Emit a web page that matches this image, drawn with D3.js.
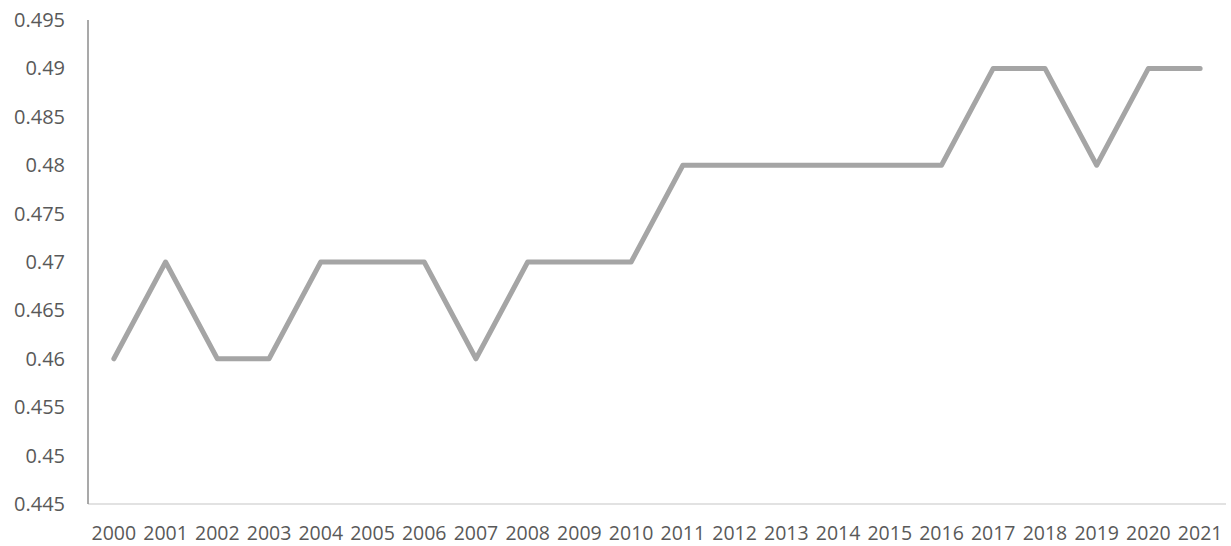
<!DOCTYPE html>
<html>
<head>
<meta charset="utf-8">
<script src="https://cdn.jsdelivr.net/npm/d3@7"></script>
<style>
  html, body { margin: 0; padding: 0; background: #fff; }
  svg { display: block; }
</style>
</head>
<body>
<svg id="chart" width="1231" height="546"></svg>
<script>
const years = ["2000","2001","2002","2003","2004","2005","2006","2007","2008","2009","2010",
               "2011","2012","2013","2014","2015","2016","2017","2018","2019","2020","2021"];
const values = [0.46,0.47,0.46,0.46,0.47,0.47,0.47,0.46,0.47,0.47,0.47,
                0.48,0.48,0.48,0.48,0.48,0.48,0.49,0.49,0.48,0.49,0.49];
const yTicks = [0.445,0.45,0.455,0.46,0.465,0.47,0.475,0.48,0.485,0.49,0.495];

const svg = d3.select("#chart");
const plotLeft = 88, plotRight = 1226, plotTop = 20, plotBottom = 504;

const x = d3.scaleBand().domain(years).range([plotLeft, plotRight]).padding(0);
const y = d3.scaleLinear().domain([0.445, 0.495]).range([plotBottom, plotTop]);

const font = "'Open Sans', sans-serif";
const textColor = "#595959";

// horizontal category axis
svg.append("line")
  .attr("x1", plotLeft).attr("x2", plotRight)
  .attr("y1", plotBottom).attr("y2", plotBottom)
  .attr("stroke", "#d9d9d9").attr("stroke-width", 1.5);

// vertical value axis
svg.append("line")
  .attr("x1", plotLeft).attr("x2", plotLeft)
  .attr("y1", plotTop).attr("y2", plotBottom)
  .attr("stroke", "#8c8c8c").attr("stroke-width", 1.5);

// value tick labels
svg.append("g").selectAll("text")
  .data(yTicks).join("text")
  .attr("x", 65)
  .attr("y", d => y(d))
  .attr("dy", "0.35em")
  .attr("text-anchor", "end")
  .attr("font-family", font)
  .attr("font-size", 20)
  .attr("fill", textColor)
  .text(d => String(+d.toFixed(3)));

// year labels
svg.append("g").selectAll("text")
  .data(years).join("text")
  .attr("x", d => x(d) + x.bandwidth() / 2)
  .attr("y", 540)
  .attr("text-anchor", "middle")
  .attr("font-family", font)
  .attr("font-size", 19.5)
  .attr("fill", textColor)
  .text(d => d);

// series line
const line = d3.line()
  .x((d, i) => x(years[i]) + x.bandwidth() / 2)
  .y(d => y(d));

svg.append("path")
  .datum(values)
  .attr("d", line)
  .attr("fill", "none")
  .attr("stroke", "#a5a5a5")
  .attr("stroke-width", 5)
  .attr("stroke-linejoin", "round")
  .attr("stroke-linecap", "round");
</script>
</body>
</html>
